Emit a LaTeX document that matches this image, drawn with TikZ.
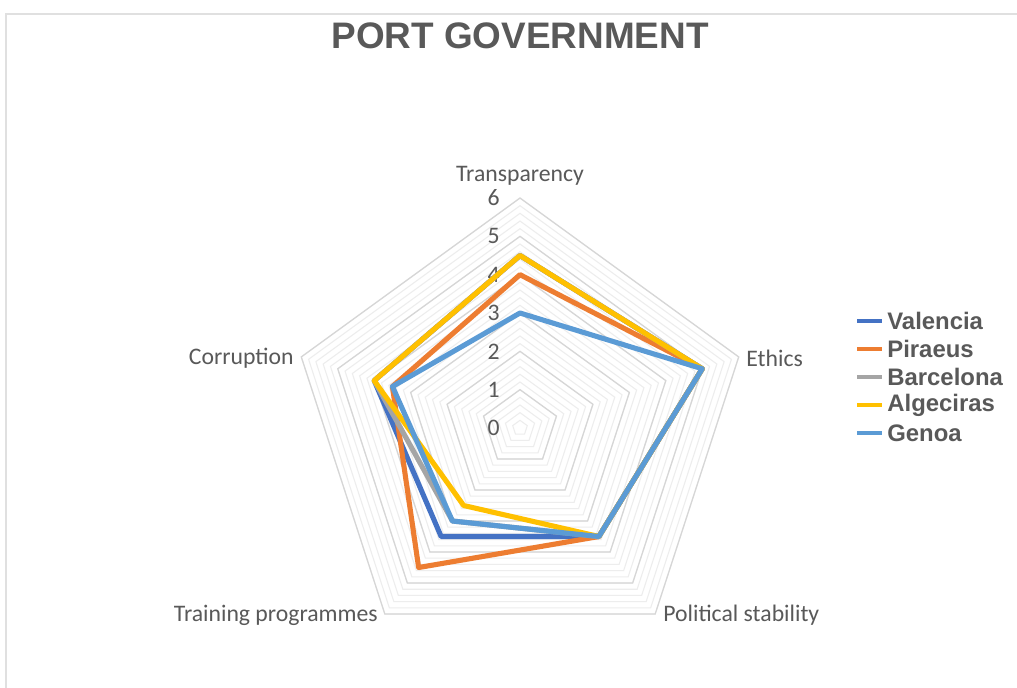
\documentclass[tikz,border=0pt]{standalone}
\usepackage{fontspec}
\setmainfont{Carlito}
\newfontfamily\arialfont{Liberation Sans}

\definecolor{textgrey}{HTML}{595959}
\definecolor{valencia}{HTML}{4472C4}
\definecolor{piraeus}{HTML}{ED7D31}
\definecolor{barcelona}{HTML}{A5A5A5}
\definecolor{algeciras}{HTML}{FFC000}
\definecolor{genoa}{HTML}{5B9BD5}

\tikzset{
  minorgrid/.style={draw=black!7, line width=0.6pt},
  majorgrid/.style={draw=black!16, line width=0.7pt},
  series/.style={line width=2.9pt, line join=round},
  charttitle/.style={font=\arialfont\bfseries\fontsize{21}{25}\selectfont, text=textgrey},
  axislabel/.style={font=\fontsize{13.5}{16}\selectfont, text=textgrey, inner sep=0pt},
  legendtext/.style={font=\arialfont\bfseries\fontsize{13.6}{16}\selectfont, text=textgrey, anchor=west, inner sep=0pt}
}

\begin{document}
\begin{tikzpicture}[x=0.02cm,y=0.02cm]
			\useasboundingbox (0,0) rectangle (1017,688);
			\fill[white] (0,0) rectangle (1017,688);
			\draw[black!12, line width=1pt] (6,0) -- (6,674) -- (1017,674);
			\node[charttitle] (title) at (520,652) {PORT GOVERNMENT};

			\begin{scope}[shift={(520,260)}, x=0.7667cm, y=0.7667cm]
				\foreach \i in {1,...,30} {
					\pgfmathsetmacro\r{\i/5}
					\draw[minorgrid] (90:\r) -- (18:\r) -- (-54:\r) -- (-126:\r) -- (162:\r) -- cycle;
				}
				\foreach \r in {1,...,6}
					\draw[majorgrid] (90:\r) -- (18:\r) -- (-54:\r) -- (-126:\r) -- (162:\r) -- cycle;
				\foreach \r in {0,...,6}
					\node[axislabel, anchor=east] (tick\r) at (-0.52,\r) {\r};

				\draw[series, valencia] (90:4.5) -- (18:5) -- (-54:3.5) -- (-126:3.5) -- (162:4) -- cycle;
				\draw[series, piraeus] (90:4) -- (18:5) -- (-54:3.5) -- (-126:4.5) -- (162:3.5) -- cycle;
				\draw[series, barcelona] (90:4.5) -- (18:5) -- (-54:3.5) -- (-126:3) -- (162:4) -- cycle;
				\draw[series, algeciras] (90:4.5) -- (18:5) -- (-54:3.5) -- (-126:2.5) -- (162:4) -- cycle;
				\draw[series, genoa] (90:3) -- (18:5) -- (-54:3.5) -- (-126:3) -- (162:3.5) -- cycle;
			\end{scope}

			\node[axislabel] (transparency) at (520,512) {Transparency};
			\node[axislabel, anchor=west] (ethics) at (746,330) {Ethics};
			\node[axislabel, anchor=east] (corruption) at (294,330) {Corruption};
			\node[axislabel, anchor=east] (training) at (378,73) {Training programmes};
			\node[axislabel, anchor=west] (stability) at (663,73) {Political stability};

			\foreach \name/\col [count=\k] in {Valencia/valencia, Piraeus/piraeus, Barcelona/barcelona, Algeciras/algeciras, Genoa/genoa} {
				\draw[\col, line width=2.8pt] (857,395-28*\k) -- (882,395-28*\k);
				\node[legendtext] (leg\k) at (887,395-28*\k) {\name};
			}
		\end{tikzpicture}
\end{document}
